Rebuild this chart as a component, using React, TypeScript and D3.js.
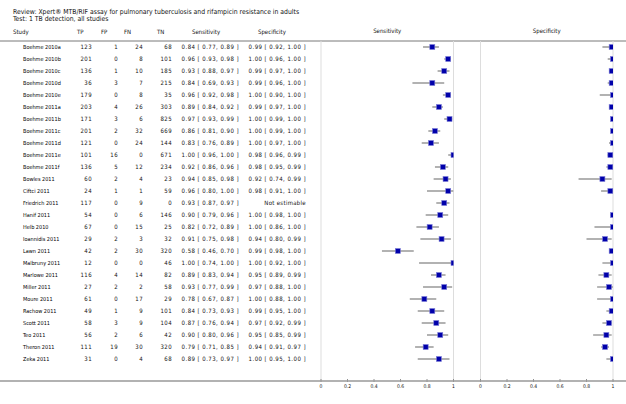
import React from "react";
import * as d3 from "d3";

const studies = ["Boehme 2010a","Boehme 2010b","Boehme 2010c","Boehme 2010d","Boehme 2010e","Boehme 2011a","Boehme 2011b","Boehme 2011c","Boehme 2011d","Boehme 2011e","Boehme 2011f","Bowles 2011","Ciftci 2011","Friedrich 2011","Hanif 2011","Helb 2010","Ioannidis 2011","Lawn 2011","Malbruny 2011","Marlowe 2011","Miller 2011","Moure 2011","Rachow 2011","Scott 2011","Teo 2011","Theron 2011","Zeka 2011"];
const tp = [123,201,136,36,179,203,171,201,121,101,136,60,24,117,54,67,29,42,12,116,27,61,49,58,56,111,31];
const fp = [1,0,1,3,0,4,3,2,0,16,5,2,1,0,0,0,2,2,0,4,2,0,1,3,2,19,0];
const fn = [24,8,10,7,8,26,6,32,24,0,12,4,1,9,6,15,3,30,0,14,2,17,9,9,6,30,4];
const tn = [68,101,185,215,35,303,825,669,144,671,234,23,59,0,146,25,32,320,46,82,58,29,101,104,42,320,68];
const sens = [0.84,0.96,0.93,0.84,0.96,0.89,0.97,0.86,0.83,1.00,0.92,0.94,0.96,0.93,0.90,0.82,0.91,0.58,1.00,0.89,0.93,0.78,0.84,0.87,0.90,0.79,0.89];
const sensLo = [0.77,0.93,0.88,0.69,0.92,0.84,0.93,0.81,0.76,0.96,0.86,0.85,0.80,0.87,0.79,0.72,0.75,0.46,0.74,0.83,0.77,0.67,0.73,0.76,0.80,0.71,0.73];
const sensHi = [0.89,0.98,0.97,0.93,0.98,0.92,0.99,0.90,0.89,1.00,0.96,0.98,1.00,0.97,0.96,0.89,0.98,0.70,1.00,0.94,0.99,0.87,0.93,0.94,0.96,0.85,0.97];
const spec: (number | null)[] = [0.99,1.00,0.99,0.99,1.00,0.99,1.00,1.00,1.00,0.98,0.98,0.92,0.98,null,1.00,1.00,0.94,0.99,1.00,0.95,0.97,1.00,0.99,0.97,0.95,0.94,1.00];
const specLo: (number | null)[] = [0.92,0.96,0.97,0.96,0.90,0.97,0.99,0.99,0.97,0.96,0.95,0.74,0.91,null,0.98,0.86,0.80,0.98,0.92,0.89,0.88,0.88,0.95,0.92,0.85,0.91,0.95];
const specHi: (number | null)[] = [1.00,1.00,1.00,1.00,1.00,1.00,1.00,1.00,1.00,0.99,0.99,0.99,1.00,null,1.00,1.00,0.99,1.00,1.00,0.99,1.00,1.00,1.00,0.99,0.99,0.97,1.00];
const tickValues = [0, 0.2, 0.4, 0.6, 0.8, 1];
const titleLine1 = "Review:  Xpert® MTB/RIF assay for pulmonary tuberculosis and rifampicin resistance in adults";
const titleLine2 = "Test:  1 TB detection, all studies";

const W = 626, H = 404;
const FONT = "'Liberation Sans Narrow', 'DejaVu Sans Condensed', 'Liberation Sans', sans-serif";
const f2 = (v: number) => v.toFixed(2);

export default function App() {
  const y = d3.scaleLinear().domain([0, studies.length - 1]).range([47, 359]);
  const xs = d3.scaleLinear().domain([0, 1]).range([321, 453.5]);
  const xp = d3.scaleLinear().domain([0, 1]).range([480.5, 613]);
  const topY = 41, axisY = 381;
  const sq = 5;
  const txt = { fontFamily: FONT, fontSize: 6, fill: "#111" } as any;

  const panel = (x: d3.ScaleLinear<number, number>, pts: (number | null)[], lo: (number | null)[], hi: (number | null)[], id: string, label: string) => (
    <g>
      <clipPath id={id}>
        <rect x={x(0)} y={topY} width={x(1) - x(0)} height={axisY - topY} />
      </clipPath>
      <line x1={x(0)} x2={x(0)} y1={topY} y2={axisY} stroke="#ddd" strokeWidth={1} />
      <line x1={x(1)} x2={x(1)} y1={topY} y2={axisY} stroke="#ddd" strokeWidth={1} />
      <text x={(x(0) + x(1)) / 2} y={33} textAnchor="middle" {...txt}>{label}</text>
      {pts.map((p, i) =>
        p == null ? null : (
          <g key={i} clipPath={`url(#${id})`}>
            <line x1={x(lo[i] as number)} x2={x(hi[i] as number)} y1={y(i)} y2={y(i)} stroke="#999" strokeWidth={1.4} />
            <rect x={x(p) - sq / 2} y={y(i) - sq / 2} width={sq} height={sq} fill="#0000aa" stroke="#7f7fd8" strokeWidth={0.6} />
          </g>
        )
      )}
      {tickValues.map((t) => (
        <g key={t}>
          <line x1={x(t)} x2={x(t)} y1={axisY - 2} y2={axisY + 1} stroke="#777" strokeWidth={0.8} />
          <text x={x(t)} y={axisY + 7} textAnchor="middle" {...txt} fontSize={5}>{d3.format("")(t)}</text>
        </g>
      ))}
    </g>
  );

  return (
    <svg width={W} height={H} style={{ position: "absolute", left: 0, top: 0, background: "#fff" }}>
      <text x={13} y={14} {...txt} fontSize={6.8}>{titleLine1}</text>
      <text x={13} y={21} {...txt} fontSize={6.8}>{titleLine2}</text>
      <text x={13} y={34} {...txt}>Study</text>
      <text x={77} y={34} {...txt}>TP</text>
      <text x={101} y={34} {...txt}>FP</text>
      <text x={124} y={34} {...txt}>FN</text>
      <text x={157} y={34} {...txt}>TN</text>
      <text x={192} y={34} {...txt}>Sensitivity</text>
      <text x={258} y={34} {...txt}>Specificity</text>
      <line x1={0} x2={W} y1={topY} y2={topY} stroke="#555" strokeWidth={0.8} />
      {studies.map((s, i) => (
        <g key={s}>
          <text x={23} y={y(i) + 2} {...txt} fontSize={5.5} fill="#000">{s}</text>
          <text x={92} y={y(i) + 2} textAnchor="end" {...txt} letterSpacing={0.4}>{tp[i]}</text>
          <text x={118} y={y(i) + 2} textAnchor="end" {...txt} letterSpacing={0.4}>{fp[i]}</text>
          <text x={143} y={y(i) + 2} textAnchor="end" {...txt} letterSpacing={0.4}>{fn[i]}</text>
          <text x={172} y={y(i) + 2} textAnchor="end" {...txt} letterSpacing={0.4}>{tn[i]}</text>
          <text x={239} y={y(i) + 2} textAnchor="end" {...txt} letterSpacing={0.45}>{`${f2(sens[i])} [ ${f2(sensLo[i])}, ${f2(sensHi[i])} ]`}</text>
          <text x={306} y={y(i) + 2} textAnchor="end" {...txt} letterSpacing={spec[i] == null ? 0.3 : 0.45}>
            {spec[i] == null ? "Not estimable" : `${f2(spec[i] as number)} [ ${f2(specLo[i] as number)}, ${f2(specHi[i] as number)} ]`}
          </text>
        </g>
      ))}
      {panel(xs, sens, sensLo, sensHi, "clipSens", "Sensitivity")}
      {panel(xp, spec, specLo, specHi, "clipSpec", "Specificity")}
      <line x1={0} x2={W} y1={axisY} y2={axisY} stroke="#999" strokeWidth={1.6} />
    </svg>
  );
}
